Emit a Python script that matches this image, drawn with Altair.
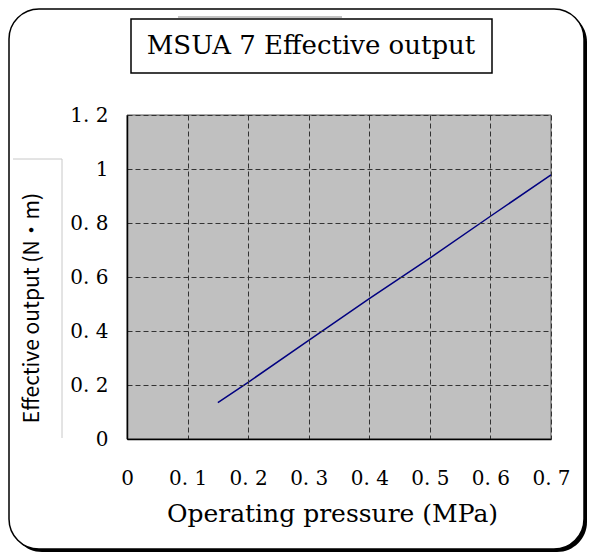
import altair as alt
import pandas as pd

# data
pressure = [0.15, 0.2, 0.3, 0.4, 0.5, 0.6, 0.7]
output = [0.135, 0.21, 0.365, 0.52, 0.67, 0.825, 0.978]
x_ticks = [0, 0.1, 0.2, 0.3, 0.4, 0.5, 0.6, 0.7]
y_ticks = [0, 0.2, 0.4, 0.6, 0.8, 1.0, 1.2]
title_text = "MSUA 7 Effective output"
x_title = "Operating pressure (MPa)"
y_title = "Effective output (N・m)"

W, H = 424, 324
one = pd.DataFrame({"a": [0]})
base = alt.Chart(one)

shadow = base.mark_rect(fill="black", cornerRadius=30).encode(
    x=alt.value(-115), x2=alt.value(460), y=alt.value(-103), y2=alt.value(437))
frame = base.mark_rect(fill="white", stroke="black", strokeWidth=1.5, cornerRadius=30).encode(
    x=alt.value(-118), x2=alt.value(457), y=alt.value(-106), y2=alt.value(434))
topline = base.mark_rule(color="#888888", strokeWidth=1).encode(
    x=alt.value(51), x2=alt.value(215), y=alt.value(-98))
gray_h = base.mark_rule(color="#c8c8c8", strokeWidth=1).encode(
    x=alt.value(-114), x2=alt.value(-65), y=alt.value(44))
gray_v = base.mark_rule(color="#c8c8c8", strokeWidth=1).encode(
    x=alt.value(-65), y=alt.value(44), y2=alt.value(323))
tbox = base.mark_rect(fill="white", stroke="black", strokeWidth=1.5).encode(
    x=alt.value(4), x2=alt.value(365), y=alt.value(-96), y2=alt.value(-42))
ttext = base.mark_text(font="DejaVu Serif", fontSize=26, color="black",
                       align="center", baseline="middle").encode(
    x=alt.value(184), y=alt.value(-69), text=alt.value(title_text))
ytext = base.mark_text(font="Noto Sans CJK JP", fontSize=21, color="black",
                       align="center", baseline="middle", angle=270).encode(
    x=alt.value(-94), y=alt.value(193), text=alt.value(y_title))
plotbg = base.mark_rect(fill="#C0C0C0", stroke="#555555", strokeWidth=1).encode(
    x=alt.value(0), x2=alt.value(W), y=alt.value(0), y2=alt.value(H))

df = pd.DataFrame({"p": pressure, "o": output})
label_expr = "datum.value == 0 ? '0' : replace(format(datum.value, '~g'), '.', '. ')"

line = alt.Chart(df).mark_line(color="#000080", strokeWidth=1.5).encode(
    x=alt.X("p:Q", scale=alt.Scale(domain=[0, 0.7], nice=False),
            axis=alt.Axis(values=x_ticks, labelExpr=label_expr, title=x_title,
                          titleFont="DejaVu Serif", titleFontSize=25, titleFontWeight="normal",
                          titleColor="black", titlePadding=13, titleX=205, titleAlign="center",
                          labelFont="DejaVu Serif", labelFontSize=20, labelColor="black",
                          labelPadding=29, labelFlush=False, labelOverlap=False,
                          ticks=False, domainColor="black", domainWidth=1.5,
                          grid=True, gridColor="#333333", gridDash=[5, 3], gridWidth=1,
                          zindex=1)),
    y=alt.Y("o:Q", scale=alt.Scale(domain=[0, 1.2], nice=False),
            axis=alt.Axis(values=y_ticks, labelExpr=label_expr, title=None,
                          labelFont="DejaVu Serif", labelFontSize=20, labelColor="black",
                          labelPadding=19, labelFlush=False, labelOverlap=False,
                          ticks=False, domainColor="black", domainWidth=1.5,
                          grid=True, gridColor="#333333", gridDash=[5, 3], gridWidth=1,
                          zindex=1)),
)

chart = alt.layer(shadow, frame, topline, gray_h, gray_v, tbox, ttext, ytext, plotbg, line).properties(
    width=W, height=H,
    autosize=alt.AutoSizeParams(type="none"),
    padding={"left": 119, "top": 107, "right": 36, "bottom": 113},
).configure_view(strokeWidth=0).configure(background="white")

chart.save("out.html", embed_options={"renderer": "svg", "actions": False})
